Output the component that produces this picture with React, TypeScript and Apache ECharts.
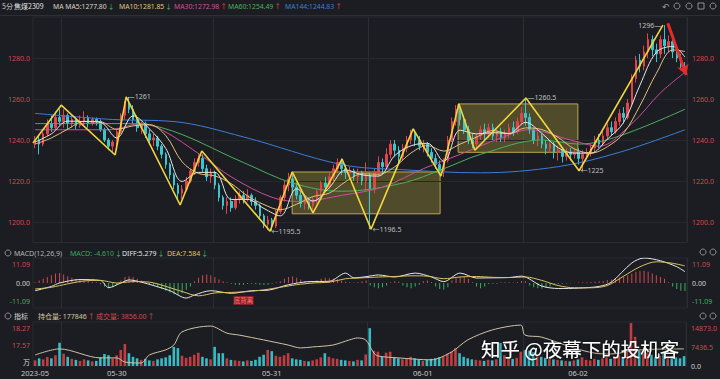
import React, { useEffect, useRef } from "react";
import * as echarts from "echarts";

// ---------- DATA ----------
// candles: [open, close, low, high]
const candles: number[][] = [
  [1238,1240,1236,1242],[1240,1238,1233,1242],[1238,1243,1237,1244],[1243,1248,1242,1250],[1248,1246,1244,1252],
  [1246,1251,1245,1254],[1251,1249,1247,1255],[1249,1252,1246,1255],[1252,1248,1245,1253],[1248,1250,1246,1252],
  [1250,1247,1245,1251],[1247,1249,1246,1252],[1249,1251,1247,1254],[1251,1248,1246,1252],[1248,1250,1247,1251],
  [1250,1249,1247,1251],[1249,1245,1244,1250],[1245,1240,1239,1246],[1240,1237,1235,1241],[1237,1239,1234,1240],
  [1239,1244,1237,1245],[1244,1252,1243,1253],[1252,1258,1250,1259],[1258,1255,1253,1261],[1255,1250,1248,1257],
  [1250,1246,1244,1252],[1246,1248,1243,1249],[1248,1243,1241,1249],[1243,1240,1238,1245],[1240,1241,1237,1243],
  [1241,1237,1235,1242],[1237,1233,1231,1238],[1233,1228,1226,1234],[1228,1223,1221,1229],[1223,1218,1216,1224],
  [1218,1214,1211,1219],[1214,1216,1211,1218],[1216,1220,1215,1222],[1220,1225,1219,1226],[1225,1229,1223,1231],
  [1229,1231,1227,1233],[1231,1226,1224,1233],[1226,1222,1220,1228],[1222,1224,1219,1226],[1224,1218,1216,1225],
  [1218,1212,1210,1219],[1212,1208,1206,1213],[1208,1210,1204,1212],[1210,1207,1205,1212],[1207,1211,1206,1213],
  [1211,1213,1209,1215],[1213,1211,1209,1215],[1211,1213,1210,1216],[1213,1210,1208,1214],[1210,1208,1206,1212],
  [1208,1203,1201,1209],[1203,1199,1197,1204],[1199,1201,1196,1203],[1201,1198,1195.5,1202],[1198,1205,1197,1206],
  [1205,1212,1204,1213],[1212,1218,1210,1220],[1218,1221,1215,1224],[1221,1217,1214,1223],[1217,1213,1211,1219],
  [1213,1209,1207,1215],[1209,1210,1206,1212],[1210,1208,1206,1212],[1208,1211,1206,1212],[1211,1215,1209,1216],
  [1215,1219,1213,1220],[1219,1217,1215,1222],[1217,1222,1216,1224],[1222,1226,1220,1228],[1226,1229,1224,1231],
  [1229,1226,1223,1231],[1226,1224,1221,1228],[1224,1225,1221,1227],[1225,1222,1220,1226],[1222,1224,1219,1226],
  [1224,1220,1218,1225],[1220,1223,1215,1229],[1223,1216,1196.5,1224],[1216,1224,1214,1226],[1224,1229,1222,1232],
  [1229,1227,1224,1231],[1227,1233,1226,1236],[1233,1238,1231,1240],[1238,1235,1232,1240],[1235,1232,1229,1237],
  [1232,1236,1230,1238],[1236,1240,1234,1242],[1240,1243,1238,1245],[1243,1240,1237,1245],[1240,1237,1235,1242],
  [1237,1238,1234,1240],[1238,1234,1232,1239],[1234,1231,1229,1236],[1231,1228,1226,1233],[1228,1225,1223,1230],
  [1225,1230,1222,1231],[1230,1240,1229,1242],[1240,1249,1239,1251],[1249,1255,1247,1257],[1255,1250,1247,1257.5],
  [1250,1245,1243,1252],[1245,1240,1238,1247],[1240,1238,1236,1243],[1238,1242,1236,1243],[1242,1245,1240,1247],
  [1245,1243,1240,1248],[1243,1246,1241,1248],[1246,1242,1240,1248],[1242,1244,1239,1246],[1244,1241,1239,1246],
  [1241,1243,1239,1245],[1243,1246,1241,1248],[1246,1244,1242,1249],[1244,1249,1243,1251],[1249,1253,1247,1256],
  [1253,1251,1247,1260.5],[1251,1245,1243,1253],[1245,1240,1238,1246],[1240,1242,1237,1244],[1242,1238,1236,1243],
  [1238,1236,1233,1240],[1236,1238,1234,1240],[1238,1234,1231,1239],[1234,1235,1230,1237],[1235,1232,1229,1236],
  [1232,1234,1230,1236],[1234,1233,1230,1236],[1233,1234,1231,1236],[1234,1231,1228,1236],[1231,1233,1225,1235],
  [1233,1234,1231,1236],[1234,1236,1232,1238],[1236,1240,1234,1242],[1240,1238,1236,1243],[1238,1242,1237,1245],
  [1242,1246,1240,1248],[1246,1244,1242,1249],[1244,1249,1243,1251],[1249,1253,1247,1255],[1253,1251,1248,1256],
  [1251,1258,1250,1260],[1258,1270,1257,1272],[1270,1279,1268,1281],[1279,1276,1273,1282],[1276,1283,1274,1286],
  [1283,1289,1280,1292],[1289,1284,1281,1291],[1284,1282,1278,1287],[1282,1289,1280,1291],[1289,1286,1282,1296],
  [1286,1288,1283,1291],[1288,1283,1280,1290],[1283,1280,1278,1285],[1280,1276,1274,1282],[1276,1275,1273,1278],
];

const volumes: number[] = [
  2200,3000,2600,3500,3000,4200,9100,4800,3600,2800,
  2400,2000,2600,2200,1800,2000,3400,4700,4200,3000,
  4200,6300,8600,5000,3600,3000,2400,2800,2200,2000,
  2600,3000,3400,4200,7500,7000,4000,3200,3600,4400,
  5200,3600,3000,2600,7500,5000,5000,3000,2400,2200,
  2000,1800,2200,2000,2400,3600,4400,6300,5800,4000,
  3600,4200,5000,3000,2600,2400,2000,1800,2200,2600,
  3400,5000,3600,3000,2800,2400,2200,2000,1800,2400,
  2200,4500,14800,6000,5600,3600,5200,5600,3400,3000,
  2600,2800,3600,3000,2400,2000,2400,2800,3000,3400,
  3800,4800,5600,7000,5000,3600,3000,2600,2400,2200,
  2000,2400,2200,2600,9000,4200,3000,2800,3200,5600,
  6200,6000,5400,4000,3600,3200,3000,2600,2400,2200,
  2000,1800,2200,2600,3400,2400,2200,2800,2400,3000,
  3400,2800,3600,4200,3600,5400,16800,11400,6200,6000,
  5200,4400,3600,4000,5000,3600,3800,3400,3000,3856,
];

const macdHist: number[] = [
  0.5,1.5,2.5,3.5,4.5,5.5,5.8,5,4,3,
  2.4,2,1.5,1.2,0.8,0.4,-0.8,-2,-3,-2.5,
  -1,1.5,3.5,4,3.5,2.5,1.5,0.5,-0.8,-1.5,
  -2.5,-3.5,-4.5,-5.5,-6.5,-6.8,-6,-4,-2,1,
  3,4.5,5,4.5,3.5,2,1,0.5,-0.5,-1,
  -1.2,-1,-0.6,-0.5,-0.8,-1,-1.2,-1,-0.5,0.5,
  1,2.5,3.5,3.8,3,2,1.2,1,0.8,1.5,
  2.5,3,2.8,2.5,2.2,1.5,0.8,0.5,0.3,0.5,
  1,1.5,-1.5,-2.5,-3,-2.5,-1.5,0.5,1,0.8,
  -1.5,-2.5,-3,-2,-1,1,1.5,0.6,-2,-3.5,
  -4,-2.5,1.5,3,3.7,3.5,2.5,0.5,-2,-3,
  -2,-0.6,-0.5,-0.4,0.4,0.5,0.4,0.3,0.6,1.2,
  1,-1.5,-2.5,-3,-3.2,-2.8,-2,-1.2,-0.6,-0.4,
  -0.3,-0.2,0.2,0.3,0.4,0.5,0.6,0.8,1,1.2,
  1.8,2,2.6,3.2,3.8,4.5,5.5,6.5,7,7.2,
  6.5,5.5,4.5,3.5,2.5,0.5,-2,-3.5,-4.5,-4.61,
];

// [bar index, value]
const diffPts: number[][] = [
  [0,-4.5],[4,-2],[6,0],[11,2],[16,1.5],[18,-2.7],[21,0],[23,1.8],[26,0.5],[29,-1.5],[33,-4.5],[37,-8.8],
  [39,-7],[43,-4.5],[48,-6],[53,-4.5],[57,-4.2],[62,-1],[67,0.8],[72,1],[76,5.8],[78,3],[81,3.7],[84,4.7],
  [88,3.5],[93,5.8],[97,3.5],[100,0.8],[104,5.8],[108,2.9],[111,3],[116,3.2],[119,4],[124,-1.8],[128,-3.2],
  [133,-3],[138,-2],[141,0.5],[146,11.7],[149,14.6],[153,13],[157,9.5],[159,6.6],
];
const deaPts: number[][] = [
  [0,-3.5],[4,-2.5],[8,-0.5],[12,1.2],[16,1.5],[20,0],[24,0.8],[28,0.5],[32,-2],[36,-5],[40,-7.5],[44,-5.8],
  [48,-5.5],[52,-5],[56,-4],[60,-2.5],[64,-1],[68,0],[72,0.5],[76,2.5],[80,3],[84,3.5],[88,3.8],[92,4.2],
  [96,4],[100,2.5],[104,3.5],[108,3.8],[112,3.3],[116,3.2],[120,3.5],[124,1.5],[128,-1.5],[132,-2.8],
  [136,-2.8],[140,-1.5],[144,4],[148,9.5],[152,12.4],[156,11.5],[159,10],
];

const ma5Pts: number[][] = [
  [0,1239],[4,1243],[8,1249.2],[12,1249],[16,1248.6],[20,1241],[24,1251.8],[28,1245.4],[32,1235.8],[36,1219.8],
  [40,1224.2],[44,1224.2],[48,1211],[52,1211],[56,1206.6],[60,1203],[64,1216.2],[68,1210.2],[72,1216.8],[76,1225.4],
  [80,1223],[84,1222.4],[88,1232.4],[92,1237.2],[96,1238.4],[100,1229.6],[104,1244.8],[108,1243],[112,1243.6],[116,1243.2],
  [120,1248.6],[124,1243.2],[128,1236.2],[132,1233.6],[136,1233.6],[140,1240.4],[144,1248.6],[148,1266.8],[152,1282.8],
  [156,1285.6],[159,1280.4],
];
const ma10Pts: number[][] = [
  [0,1238],[4,1241],[8,1245.3],[12,1249.1],[16,1248.9],[20,1245.2],[24,1246.9],[28,1247.5],[32,1242.1],[36,1229.3],
  [40,1223.7],[44,1222.5],[48,1218.7],[52,1212.7],[56,1208.5],[60,1206],[64,1208.7],[68,1212.4],[72,1214.1],[76,1219.7],
  [80,1223.5],[84,1223.3],[88,1226.9],[92,1233.7],[96,1237.3],[100,1234.6],[104,1238],[108,1241.4],[112,1244.6],[116,1243],
  [120,1245.9],[124,1245.1],[128,1241.2],[132,1235.6],[136,1233.6],[140,1236.7],[144,1243.3],[148,1256.8],[152,1272.5],
  [156,1283.9],[159,1283.2],
];
const ma30Pts: number[][] = [
  [0,1245],[18,1245],[26,1248],[31,1245],[41,1232],[48,1222],[58,1212],[65,1210],[75,1213],[85,1217],
  [95,1226],[104,1233],[114,1241],[121,1245],[131,1240],[138,1237],[146,1248],[153,1263],[159,1273],
];
const ma60Pts: number[][] = [
  [0,1248],[20,1248],[31,1246],[51,1229],[63,1219],[75,1215],[90,1219],[100,1226],[109,1233],[124,1240],
  [133,1238],[143,1242],[159,1255],
];
const ma144Pts: number[][] = [
  [0,1253],[19,1250],[34,1249],[51,1241.5],[75,1228],[90,1225.5],[109,1224],[128,1227],[143,1234],[159,1245],
];

// open interest (万)
const oiPts: number[][] = [
  [0,17.2],[6,17.45],[16,17.08],[20,17.08],[22,16.91],[26,16.87],[28,17.2],[32,17.41],[34,17.61],[36,18.15],
  [43,18.39],[47,18.1],[50,18.02],[56,17.82],[62,17.61],[65,17.49],[68,17.53],[73,17.61],[77,17.82],[79,17.9],
  [81,17.82],[83,17.28],[84,17.16],[89,17.08],[97,17.0],[102,17.32],[106,17.82],[112,18.23],[119,18.43],[120,18.02],
  [124,17.94],[132,17.49],[137,17.28],[141,17.24],[148,17.41],[159,17.45],
];

// zigzag swing line [bar position, price]
const zigzag: number[][] = [
  [-0.5,1238.5],[6.4,1257],[19.6,1232.7],[22.3,1261],[35.5,1208.3],[40.8,1234.6],[57.5,1195.5],[62.9,1224.4],
  [68,1204.4],[75.1,1230.7],[82.2,1196.5],[92.5,1245.4],[99.3,1222.4],[103.7,1257.6],[107.6,1235],[120.1,1260.5],
  [133.1,1225],[153.6,1296],
];
// boxes: [x0, x1, top, bottom]
const boxes: number[][] = [
  [62.9, 99.1, 1224.4, 1204],
  [103.5, 132.8, 1257.6, 1234],
];
// swing labels: [pos, price, text, side]
const swingLabels: [number, number, string, string][] = [
  [22.3, 1261, "—1261", "right"],
  [57.5, 1195.5, "←1195.5", "right"],
  [82.2, 1196.5, "←1196.5", "right"],
  [120.1, 1260.5, "—1260.5", "right"],
  [133.1, 1225, "←1225", "right"],
  [153.6, 1296, "1296—", "left"],
];
const arrowPts: number[][] = [[154.8, 1297], [159.3, 1271.7]];

const dayLabels = ["2023-05", "05-30", "05-31", "06-01", "06-02"];
const dayLabelIdx = [0, 20, 58, 95, 133];
const dayBoundaryIdx = [7, 44, 82, 120];

const priceTicks = [1200, 1220, 1240, 1260, 1280];
const macdTicks = [-11.09, 0, 11.09];
const oiTicks = [17.57, 18.27];
const volTicks = [0, 7436.5, 14873];

// header texts: [x, main text, arrow, colour, arrow colour]
const maHeader: [number, string, string, string, string][] = [
  [53, "MA MA5:1277.80", "↓", "#ddd5c4", "#3fbf5f"],
  [119, "MA10:1281.85", "↓", "#e6c47e", "#3fbf5f"],
  [174, "MA30:1272.98", "↑", "#d0519f", "#e04848"],
  [228, "MA60:1254.49", "↑", "#4fae5e", "#e04848"],
  [285, "MA144:1244.83", "↑", "#3d7dd8", "#e04848"],
];
const macdHeader: [number, string, string, string, string][] = [
  [70, "MACD: -4.610", "↓", "#3aa85a", "#3fbf5f"],
  [122, "DIFF:5.279", "↓", "#e4e4e4", "#3fbf5f"],
  [167, "DEA:7.584", "↓", "#e0c35e", "#3fbf5f"],
];
const volHeader: [number, string, string, string, string][] = [
  [38, "持仓量: 177846", "↑", "#d9c89c", "#e04848"],
  [96, "成交量: 3856.00", "↑", "#d04a4e", "#e04848"],
];

// ---------- STYLE ----------
const BG = "#1b1d22";
const UP = "#e0454b";
const DN = "#3ec4cb";
const VUP = "#c23d41";
const VDN = "#37bcc4";
const AXRED = "#cf4a50";
const AXGREEN = "#3cb062";
const GRIDC = "#2a2d34";
const FONT = '"Noto Sans", "Noto Sans CJK SC", sans-serif';
const CJK = '"Noto Sans CJK SC", "Noto Sans", sans-serif';

function buildOption() {
  const N = candles.length;
  const cats = candles.map((_, i) => String(i));
  const labelAt: Record<number, string> = {};
  dayLabelIdx.forEach((idx, k) => (labelAt[idx] = dayLabels[k]));

  const catAxis = (gi: number, showLabel: boolean) => ({
    type: "category",
    gridIndex: gi,
    data: cats,
    boundaryGap: true,
    axisLine: { show: false },
    axisTick: { show: false },
    axisLabel: showLabel
      ? {
          show: true,
          interval: (i: number) => dayLabelIdx.includes(i),
          formatter: (_v: string, i: number) => labelAt[i] ?? "",
          color: "#c8c8c8",
          fontSize: 7.5,
          margin: 3,
          fontFamily: FONT,
        }
      : { show: false },
    splitLine: {
      show: true,
      interval: (i: number) => dayBoundaryIdx.includes(i),
      lineStyle: { color: GRIDC, width: 1 },
    },
  });

  const yAx = (gi: number, pos: string, min: number, max: number, custom: number[], fmt: (v: number) => string, color: any, margin: number) => ({
    type: "value",
    gridIndex: gi,
    position: pos,
    min,
    max,
    axisLine: { show: false },
    axisTick: { show: false },
    splitLine: { show: false },
    axisLabel: { customValues: custom, formatter: fmt, color, fontSize: 7, margin, fontFamily: FONT },
  });

  const macdColor = (v: any) => (Number(v) > 0 ? AXRED : Number(v) < 0 ? AXGREEN : "#d0d0d0");
  const volColor = (v: any) => (Number(v) === 0 ? "#d0d0d0" : AXRED);

  const maLine = (name: string, pts: number[][], color: string, width = 1) => ({
    name,
    type: "line",
    xAxisIndex: 3,
    yAxisIndex: 0,
    data: pts,
    showSymbol: false,
    smooth: 0.35,
    lineStyle: { color, width },
    silent: true,
    z: 3,
  });

  const hdr = (x: number, y: number, text: string, fill: string, size = 7, font = CJK) => ({
    type: "text",
    x,
    y,
    silent: true,
    z: 50,
    style: { text, fill, font: `${size}px ${font}`, verticalAlign: "middle" },
  });
  const hdrRich = (y: number, [x, t, a, c, ac]: [number, string, string, string, string], size = 7) => ({
    type: "text",
    x,
    y,
    silent: true,
    z: 50,
    style: {
      text: `{t|${t}}{a|${a}}`,
      verticalAlign: "middle",
      rich: {
        t: { fill: c, fontSize: size, fontFamily: FONT },
        a: { fill: ac, fontSize: size, fontFamily: FONT, padding: [0, 0, 0, 1] },
      },
    },
  });
  const icon = (x: number, y: number) => ({
    type: "circle",
    silent: true,
    z: 50,
    shape: { cx: x, cy: y, r: 3 },
    style: { fill: "none", stroke: "#8d8f94", lineWidth: 1 },
  });

  return {
    animation: false,
    backgroundColor: BG,
    textStyle: { fontFamily: FONT },
    grid: [
      { left: 33, right: 33, top: 17, height: 225.5, show: true, borderColor: "#272a31", borderWidth: 1 },
      { left: 33, right: 33, top: 258, height: 50, show: true, borderColor: "#272a31", borderWidth: 1 },
      { left: 33, right: 33, top: 322, height: 44, show: true, borderColor: "#272a31", borderWidth: 1 },
    ],
    xAxis: [
      catAxis(0, false),
      catAxis(1, false),
      catAxis(2, true),
      { type: "value", gridIndex: 0, min: -0.5, max: N - 0.5, show: false },
    ],
    yAxis: [
      yAx(0, "left", 1190, 1300, priceTicks, (v) => v.toFixed(1), AXRED, 3),
      yAx(0, "right", 1190, 1300, priceTicks, (v) => v.toFixed(1), AXRED, 5),
      yAx(1, "left", -14.6, 14.6, macdTicks, (v) => v.toFixed(2), macdColor, 3),
      yAx(1, "right", -14.6, 14.6, macdTicks, (v) => v.toFixed(2), macdColor, 5),
      yAx(2, "left", 16.746, 18.558, oiTicks, (v) => v.toFixed(2), AXRED, 3),
      yAx(2, "right", 0, 17222, volTicks, (v) => v.toFixed(1), volColor, 5),
    ],
    series: [
      {
        name: "K",
        type: "candlestick",
        xAxisIndex: 0,
        yAxisIndex: 0,
        data: candles.map(([o, c, l, h]) => [o, c, l, h]),
        barMaxWidth: 2.6,
        itemStyle: { color: UP, color0: DN, borderColor: UP, borderColor0: DN, borderWidth: 1 },
        silent: true,
        z: 2,
        markLine: {
          silent: true,
          symbol: ["none", "none"],
          label: { show: false },
          lineStyle: { color: "#25282e", type: "solid", width: 1 },
          data: priceTicks.map((v) => ({ yAxis: v })),
          z: 1,
        },
      },
      maLine("MA144", ma144Pts, "#3d7dd8"),
      maLine("MA60", ma60Pts, "#4fae5e"),
      maLine("MA30", ma30Pts, "#c94f9c"),
      maLine("MA10", ma10Pts, "#e3c07e"),
      maLine("MA5", ma5Pts, "#e6e6e6"),
      {
        name: "zigzag",
        type: "line",
        xAxisIndex: 3,
        yAxisIndex: 0,
        data: zigzag,
        showSymbol: false,
        silent: true,
        z: 5,
        lineStyle: { color: "#f2d53c", width: 1.6 },
        markArea: {
          silent: true,
          itemStyle: { color: "rgba(186,168,62,0.34)", borderColor: "#bca84a", borderWidth: 1 },
          data: boxes.map(([x0, x1, t, b]) => [
            { xAxis: x0, yAxis: t },
            { xAxis: x1, yAxis: b },
          ]),
        },
        markLine: {
          silent: true,
          symbol: ["none", "arrow"],
          symbolSize: [9, 10],
          label: { show: false },
          lineStyle: { color: "#ea2a2a", width: 3, type: "solid" },
          data: [[{ coord: arrowPts[0] }, { coord: arrowPts[1] }]],
        },
      },
      {
        name: "swing",
        type: "scatter",
        xAxisIndex: 3,
        yAxisIndex: 0,
        symbolSize: 1,
        silent: true,
        z: 6,
        itemStyle: { color: "rgba(0,0,0,0)" },
        data: swingLabels.map(([x, y, t, side]) => ({
          value: [x, y],
          label: {
            show: true,
            position: side,
            distance: 1,
            formatter: t,
            color: "#e2e2e2",
            fontSize: 7,
            fontFamily: FONT,
          },
        })),
      },
      {
        name: "MACD",
        type: "bar",
        xAxisIndex: 1,
        yAxisIndex: 2,
        barWidth: 1,
        silent: true,
        data: macdHist.map((v) => ({ value: v, itemStyle: { color: v >= 0 ? "#d24a4e" : "#3aaf5c" } })),
        markPoint: {
          silent: true,
          symbol: "rect",
          symbolSize: [20, 9],
          itemStyle: { color: "#8e1f23" },
          label: { show: true, formatter: "底背离", color: "#ff7a7a", fontSize: 6.5, fontFamily: CJK },
          data: [{ coord: [51, -10.2] }],
        },
      },
      {
        name: "DIFF",
        type: "line",
        xAxisIndex: 1,
        yAxisIndex: 2,
        data: diffPts,
        showSymbol: false,
        smooth: 0.3,
        silent: true,
        lineStyle: { color: "#e8e8e8", width: 1 },
      },
      {
        name: "DEA",
        type: "line",
        xAxisIndex: 1,
        yAxisIndex: 2,
        data: deaPts,
        showSymbol: false,
        smooth: 0.3,
        silent: true,
        lineStyle: { color: "#d9c064", width: 1 },
      },
      {
        name: "VOL",
        type: "bar",
        xAxisIndex: 2,
        yAxisIndex: 5,
        barMaxWidth: 2.6,
        silent: true,
        data: volumes.map((v, i) => ({
          value: v,
          itemStyle: { color: candles[i][1] >= candles[i][0] ? VUP : VDN },
        })),
      },
      {
        name: "OI",
        type: "line",
        xAxisIndex: 2,
        yAxisIndex: 4,
        data: oiPts,
        showSymbol: false,
        smooth: 0.3,
        silent: true,
        lineStyle: { color: "#cfc3a6", width: 1 },
        z: 4,
      },
    ],
    graphic: [
      { type: "line", silent: true, shape: { x1: 0, y1: 15.5, x2: 720, y2: 15.5 }, style: { stroke: "#2c2f36", lineWidth: 1 } },
      hdr(2, 6, "5分", "#cfcfcf", 7),
      hdr(14, 6, "焦煤2309", "#e2e2e2", 7),
      ...maHeader.map((h) => hdrRich(6, h, 6.8)),
      hdr(662, 6, "↶", "#9a9a9a", 9, FONT),
      icon(677, 6), icon(689, 6),
      { type: "rect", silent: true, z: 50, shape: { x: 698, y: 3, width: 6, height: 6 }, style: { fill: "none", stroke: "#8d8f94", lineWidth: 1 } },
      icon(713, 6),
      // MACD header
      icon(8, 253),
      hdr(14, 253, "MACD(12,26,9)", "#b4b4b4", 7, FONT),
      ...macdHeader.map((h) => hdrRich(253, h)),
      icon(703, 252), icon(713, 252),
      // volume header
      icon(8, 316),
      hdr(14, 316, "指标", "#d4d4d4", 7),
      ...volHeader.map((h) => hdrRich(316, h)),
      icon(703, 316), icon(713, 316),
      hdr(23, 362, "万", "#dddddd", 7),
      {
        type: "text",
        x: 481,
        y: 348,
        silent: true,
        z: 100,
        style: {
          text: "知乎 @夜幕下的投机客",
          fill: "#ffffff",
          font: `19.5px ${CJK}`,
          verticalAlign: "middle",
          textShadowColor: "rgba(0,0,0,0.85)",
          textShadowBlur: 3,
        },
      },
    ],
  };
}

export default function App() {
  const ref = useRef<HTMLDivElement>(null);
  useEffect(() => {
    document.body.style.margin = "0";
    document.body.style.background = BG;
    const chart = echarts.init(ref.current!, null, { renderer: "svg" });
    chart.setOption(buildOption() as any);
    return () => chart.dispose();
  }, []);
  return <div ref={ref} style={{ position: "fixed", left: 0, top: 0, width: 720, height: 379 }} />;
}
